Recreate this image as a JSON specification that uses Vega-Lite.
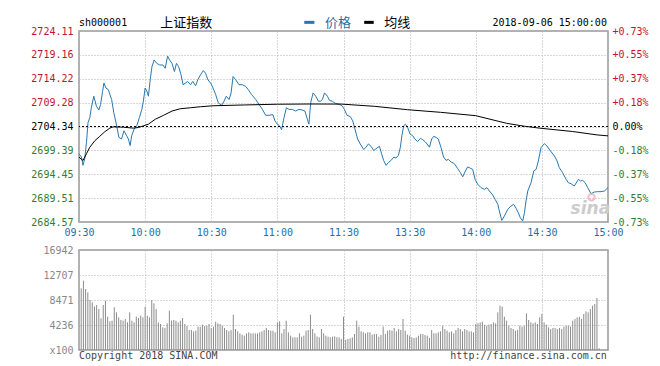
{
"$schema": "https://vega.github.io/schema/vega-lite/v6.json",
"padding": {"left": 30, "top": 16, "right": 5, "bottom": 5},
"background": "white",
"bounds": "flush",
"spacing": 28,
"config": {
  "view": {"stroke": "#999999", "strokeWidth": 1.5},
  "axis": {"labelFont": "DejaVu Sans Mono", "labelFontSize": 10, "ticks": false, "domain": false, "gridColor": "#b0b0b0", "gridDash": [1, 2], "gridWidth": 1, "labelOverlap": false, "labelFlush": false, "labelBound": false}
},
"datasets": {
  "price": [
{"m":0,"p":2698.69},{"m":1.1,"p":2698.01},{"m":1.8,"p":2696.30},{"m":2.6,"p":2697.67},{"m":3.4,"p":2701.07},{"m":4.1,"p":2705.16},{"m":4.9,"p":2706.18},{"m":5.6,"p":2708.22},{"m":6.7,"p":2710.61},{"m":7.9,"p":2708.56},{"m":9.0,"p":2707.75},{"m":9.8,"p":2708.90},{"m":10.7,"p":2711.63},{"m":11.3,"p":2713.33},{"m":12.2,"p":2712.31},{"m":13.3,"p":2711.97},{"m":14.8,"p":2709.92},{"m":15.8,"p":2707.20},{"m":17.1,"p":2704.48},{"m":18.1,"p":2702.09},{"m":19.3,"p":2701.75},{"m":20.4,"p":2703.45},{"m":21.6,"p":2702.43},{"m":22.4,"p":2701.75},{"m":23.2,"p":2700.39},{"m":23.9,"p":2702.43},{"m":25.0,"p":2703.80},{"m":26.2,"p":2704.48},{"m":27.4,"p":2706.18},{"m":28.5,"p":2707.88},{"m":29.2,"p":2709.58},{"m":30.0,"p":2712.31},{"m":30.8,"p":2711.63},{"m":31.5,"p":2710.61},{"m":32.3,"p":2714.01},{"m":33.1,"p":2716.73},{"m":34.1,"p":2718.10},{"m":35.3,"p":2717.41},{"m":36.6,"p":2717.07},{"m":38.1,"p":2717.07},{"m":39.1,"p":2716.39},{"m":40.2,"p":2718.91},{"m":41.1,"p":2718.10},{"m":42.2,"p":2717.41},{"m":43.3,"p":2715.71},{"m":44.2,"p":2717.41},{"m":45.2,"p":2716.73},{"m":46.3,"p":2715.03},{"m":47.2,"p":2712.99},{"m":48.3,"p":2713.33},{"m":49.3,"p":2713.67},{"m":50.6,"p":2712.99},{"m":51.6,"p":2713.67},{"m":52.9,"p":2712.78},{"m":53.9,"p":2714.01},{"m":55.1,"p":2715.03},{"m":56.4,"p":2715.92},{"m":57.4,"p":2715.37},{"m":58.5,"p":2714.01},{"m":59.7,"p":2713.33},{"m":60.5,"p":2712.65},{"m":62.0,"p":2710.95},{"m":63.2,"p":2709.24},{"m":64.7,"p":2708.70},{"m":65.8,"p":2709.58},{"m":66.8,"p":2710.61},{"m":68.1,"p":2709.92},{"m":69.0,"p":2711.29},{"m":69.9,"p":2714.69},{"m":71.1,"p":2714.01},{"m":72.6,"p":2712.99},{"m":74.1,"p":2712.99},{"m":75.6,"p":2712.65},{"m":76.8,"p":2711.97},{"m":78.3,"p":2710.95},{"m":80.2,"p":2709.92},{"m":81.7,"p":2708.90},{"m":83.2,"p":2707.88},{"m":84.7,"p":2706.66},{"m":86.2,"p":2706.66},{"m":88.0,"p":2706.79},{"m":88.9,"p":2705.50},{"m":90.0,"p":2704.82},{"m":91.0,"p":2704.48},{"m":91.9,"p":2703.66},{"m":93.0,"p":2706.18},{"m":94.1,"p":2708.22},{"m":95.3,"p":2707.88},{"m":96.8,"p":2707.88},{"m":98.3,"p":2707.54},{"m":99.8,"p":2707.88},{"m":101.3,"p":2707.75},{"m":102.5,"p":2707.54},{"m":103.6,"p":2705.84},{"m":104.3,"p":2704.82},{"m":105.1,"p":2709.24},{"m":106.2,"p":2711.29},{"m":107.4,"p":2710.61},{"m":108.6,"p":2709.58},{"m":109.6,"p":2709.58},{"m":110.4,"p":2709.92},{"m":111.4,"p":2711.29},{"m":112.7,"p":2710.61},{"m":113.7,"p":2709.72},{"m":114.9,"p":2709.58},{"m":116.4,"p":2709.11},{"m":118.3,"p":2708.90},{"m":119.5,"p":2708.56},{"m":120.4,"p":2707.88},{"m":121.6,"p":2706.66},{"m":123.1,"p":2706.38},{"m":124.2,"p":2705.50},{"m":125.2,"p":2703.80},{"m":126.4,"p":2701.75},{"m":127.6,"p":2700.73},{"m":129.2,"p":2699.57},{"m":130.2,"p":2700.05},{"m":131.3,"p":2700.73},{"m":132.5,"p":2700.25},{"m":133.7,"p":2699.37},{"m":134.7,"p":2699.71},{"m":136.3,"p":2700.25},{"m":137.3,"p":2698.69},{"m":138.2,"p":2697.33},{"m":139.3,"p":2696.30},{"m":140.3,"p":2696.85},{"m":141.6,"p":2697.33},{"m":142.8,"p":2698.01},{"m":143.8,"p":2697.80},{"m":144.9,"p":2698.35},{"m":145.8,"p":2700.05},{"m":146.5,"p":2702.43},{"m":147.3,"p":2704.48},{"m":148.1,"p":2704.82},{"m":149.1,"p":2704.14},{"m":150.2,"p":2702.77},{"m":151.4,"p":2702.43},{"m":152.4,"p":2701.75},{"m":153.6,"p":2701.21},{"m":154.9,"p":2701.89},{"m":155.9,"p":2701.62},{"m":157.0,"p":2701.21},{"m":157.9,"p":2700.73},{"m":159.0,"p":2700.05},{"m":160.0,"p":2701.75},{"m":160.9,"p":2702.30},{"m":162.0,"p":2702.09},{"m":163.0,"p":2701.75},{"m":164.2,"p":2700.05},{"m":165.4,"p":2698.01},{"m":166.5,"p":2697.33},{"m":167.6,"p":2697.53},{"m":168.8,"p":2696.99},{"m":170.3,"p":2696.65},{"m":171.8,"p":2695.62},{"m":173.0,"p":2694.81},{"m":174.1,"p":2693.92},{"m":175.1,"p":2694.94},{"m":176.3,"p":2695.96},{"m":177.1,"p":2695.82},{"m":178.6,"p":2695.47},{"m":179.7,"p":2693.40},{"m":180.9,"p":2692.37},{"m":182.4,"p":2691.68},{"m":183.9,"p":2691.33},{"m":185.1,"p":2691.68},{"m":186.2,"p":2690.99},{"m":187.7,"p":2690.16},{"m":188.8,"p":2689.26},{"m":190.0,"p":2688.23},{"m":190.7,"p":2686.85},{"m":191.8,"p":2684.91},{"m":193.0,"p":2685.81},{"m":194.5,"p":2687.19},{"m":196.0,"p":2687.88},{"m":197.2,"p":2688.23},{"m":198.3,"p":2687.40},{"m":199.3,"p":2686.50},{"m":200.2,"p":2685.47},{"m":201.3,"p":2684.78},{"m":202.1,"p":2686.50},{"m":202.8,"p":2688.92},{"m":203.6,"p":2690.99},{"m":205.1,"p":2692.71},{"m":206.3,"p":2695.13},{"m":207.4,"p":2695.47},{"m":208.4,"p":2697.20},{"m":209.6,"p":2699.96},{"m":211.1,"p":2700.79},{"m":212.3,"p":2700.30},{"m":213.9,"p":2699.27},{"m":215.7,"p":2698.23},{"m":216.9,"p":2697.20},{"m":217.9,"p":2695.82},{"m":219.4,"p":2694.78},{"m":221.0,"p":2693.40},{"m":222.0,"p":2692.71},{"m":223.2,"p":2692.50},{"m":224.7,"p":2692.02},{"m":226.6,"p":2693.40},{"m":227.5,"p":2693.06},{"m":228.5,"p":2693.19},{"m":229.6,"p":2692.71},{"m":230.8,"p":2691.68},{"m":232.3,"p":2690.44},{"m":233.8,"p":2690.78},{"m":235.3,"p":2690.85},{"m":236.8,"p":2690.85},{"m":238.4,"p":2690.99},{"m":240,"p":2691.68}
  ],
  "avg": [
{"m":0,"a":2698.0},{"m":1.8,"a":2697.3},{"m":3.4,"a":2698.7},{"m":4.9,"a":2700.05},{"m":7.2,"a":2701.4},{"m":9.4,"a":2702.3},{"m":11.7,"a":2703.25},{"m":14,"a":2704.0},{"m":15.5,"a":2704.27},{"m":20.1,"a":2704.2},{"m":24.7,"a":2704.0},{"m":27,"a":2704.14},{"m":29.2,"a":2704.48},{"m":31.5,"a":2704.82},{"m":34.6,"a":2705.84},{"m":38.4,"a":2706.66},{"m":42.2,"a":2707.54},{"m":46,"a":2708.02},{"m":50.6,"a":2708.22},{"m":55.1,"a":2708.43},{"m":60.8,"a":2708.63},{"m":75,"a":2708.8},{"m":90,"a":2708.95},{"m":105,"a":2709.0},{"m":119,"a":2708.98},{"m":134,"a":2708.52},{"m":149,"a":2707.82},{"m":164,"a":2707.28},{"m":180,"a":2706.58},{"m":194,"a":2705.0},{"m":202,"a":2704.4},{"m":209,"a":2704.0},{"m":224,"a":2703.3},{"m":235,"a":2702.6},{"m":240,"a":2702.4}
  ],
  "vol": [
{"m":1,"v":10447},{"m":2,"v":11746},{"m":3,"v":10334},{"m":4,"v":9769},{"m":5,"v":8470},{"m":6,"v":8075},{"m":7,"v":7397},{"m":8,"v":7623},{"m":9,"v":6946},{"m":10,"v":5365},{"m":11,"v":7620},{"m":12,"v":8357},{"m":13,"v":5647},{"m":14,"v":4856},{"m":15,"v":4970},{"m":16,"v":7228},{"m":17,"v":6381},{"m":18,"v":5534},{"m":19,"v":5083},{"m":20,"v":4970},{"m":21,"v":5252},{"m":22,"v":4687},{"m":23,"v":6381},{"m":24,"v":4970},{"m":25,"v":4687},{"m":26,"v":5647},{"m":27,"v":5421},{"m":28,"v":5817},{"m":29,"v":5534},{"m":30,"v":7340},{"m":31,"v":5817},{"m":32,"v":5534},{"m":33,"v":8470},{"m":34,"v":7906},{"m":35,"v":6946},{"m":36,"v":4687},{"m":37,"v":4405},{"m":38,"v":3840},{"m":39,"v":3727},{"m":40,"v":4518},{"m":41,"v":6664},{"m":42,"v":5000},{"m":43,"v":5083},{"m":44,"v":4970},{"m":45,"v":4687},{"m":46,"v":4970},{"m":47,"v":5421},{"m":48,"v":4405},{"m":49,"v":4066},{"m":50,"v":3388},{"m":51,"v":3388},{"m":52,"v":3162},{"m":53,"v":3275},{"m":54,"v":3953},{"m":55,"v":3953},{"m":56,"v":4300},{"m":57,"v":4066},{"m":58,"v":4123},{"m":59,"v":4405},{"m":60,"v":3727},{"m":61,"v":3953},{"m":62,"v":4800},{"m":63,"v":4518},{"m":64,"v":4405},{"m":65,"v":4123},{"m":66,"v":3727},{"m":67,"v":3388},{"m":68,"v":3162},{"m":69,"v":3388},{"m":70,"v":5985},{"m":71,"v":3558},{"m":72,"v":3162},{"m":73,"v":2824},{"m":74,"v":2598},{"m":75,"v":2428},{"m":76,"v":2824},{"m":77,"v":2993},{"m":78,"v":2824},{"m":79,"v":2824},{"m":80,"v":2824},{"m":81,"v":2824},{"m":82,"v":2993},{"m":83,"v":3162},{"m":84,"v":3388},{"m":85,"v":3727},{"m":86,"v":3388},{"m":87,"v":3275},{"m":88,"v":3275},{"m":89,"v":2993},{"m":90,"v":4687},{"m":91,"v":4856},{"m":92,"v":2824},{"m":93,"v":3558},{"m":94,"v":4970},{"m":95,"v":2993},{"m":96,"v":2428},{"m":97,"v":2146},{"m":98,"v":2146},{"m":99,"v":2146},{"m":100,"v":2824},{"m":101,"v":2259},{"m":102,"v":2428},{"m":103,"v":3275},{"m":104,"v":3388},{"m":105,"v":5985},{"m":106,"v":3558},{"m":107,"v":2824},{"m":108,"v":2300},{"m":109,"v":2146},{"m":110,"v":3558},{"m":111,"v":2824},{"m":112,"v":2428},{"m":113,"v":2259},{"m":114,"v":2146},
{"m":115,"v":2259},{"m":116,"v":2315},{"m":117,"v":2146},{"m":118,"v":2146},{"m":119,"v":1864},{"m":120,"v":5647},{"m":121,"v":1751},{"m":122,"v":1864},{"m":123,"v":1976},{"m":124,"v":2146},{"m":125,"v":2711},{"m":126,"v":4970},{"m":127,"v":3953},{"m":128,"v":3162},{"m":129,"v":2993},{"m":130,"v":2824},{"m":131,"v":2993},{"m":132,"v":2993},{"m":133,"v":2598},{"m":134,"v":2711},{"m":135,"v":2711},{"m":136,"v":2259},{"m":137,"v":2541},{"m":138,"v":3953},{"m":139,"v":2711},{"m":140,"v":3275},{"m":141,"v":3388},{"m":142,"v":3275},{"m":143,"v":3727},{"m":144,"v":3162},{"m":145,"v":3558},{"m":146,"v":3388},{"m":147,"v":5252},{"m":148,"v":3275},{"m":149,"v":2598},{"m":150,"v":2428},{"m":151,"v":2146},{"m":152,"v":2033},{"m":153,"v":2146},{"m":154,"v":2428},{"m":155,"v":2711},{"m":156,"v":2711},{"m":157,"v":2541},{"m":158,"v":2428},{"m":159,"v":2033},{"m":160,"v":3388},{"m":161,"v":2824},{"m":162,"v":2824},{"m":163,"v":2993},{"m":164,"v":3162},{"m":165,"v":4122},{"m":166,"v":3558},{"m":167,"v":3275},{"m":168,"v":2993},{"m":169,"v":3162},{"m":170,"v":2824},{"m":171,"v":3388},{"m":172,"v":3727},{"m":173,"v":3558},{"m":174,"v":3162},{"m":175,"v":3558},{"m":176,"v":3388},{"m":177,"v":3162},{"m":178,"v":3162},{"m":179,"v":2993},{"m":180,"v":4405},{"m":181,"v":4518},{"m":182,"v":4687},{"m":183,"v":4800},{"m":184,"v":4292},{"m":185,"v":4122},{"m":186,"v":4292},{"m":187,"v":4405},{"m":188,"v":4687},{"m":189,"v":4518},{"m":190,"v":6381},{"m":191,"v":7510},{"m":192,"v":7341},{"m":193,"v":5647},{"m":194,"v":4970},{"m":195,"v":4122},{"m":196,"v":3727},{"m":197,"v":3558},{"m":198,"v":3275},{"m":199,"v":3388},{"m":200,"v":4122},{"m":201,"v":3953},{"m":202,"v":4122},{"m":203,"v":6212},{"m":204,"v":5082},{"m":205,"v":4687},{"m":206,"v":4518},{"m":207,"v":4687},{"m":208,"v":4405},{"m":209,"v":5534},{"m":210,"v":6099},{"m":211,"v":4687},{"m":212,"v":4292},{"m":213,"v":3840},{"m":214,"v":3558},{"m":215,"v":3727},{"m":216,"v":3727},{"m":217,"v":3558},{"m":218,"v":3727},{"m":219,"v":3558},{"m":220,"v":3953},{"m":221,"v":4122},{"m":222,"v":4122},{"m":223,"v":3953},{"m":224,"v":4970},{"m":225,"v":5252},{"m":226,"v":5534},{"m":227,"v":5647},{"m":228,"v":5252},{"m":229,"v":6099},{"m":230,"v":6551},{"m":231,"v":6381},{"m":232,"v":6946},{"m":233,"v":7510},{"m":234,"v":7793},{"m":235,"v":8810},{"m":236,"v":300}
  ],
  "pct": [{"q": 0}]
},
"vconcat": [
  {
    "width": 529, "height": 191,
    "layer": [
      {"layer": [
        {"data": {"name": "price"}, "mark": {"type": "line", "color": "#2878b0", "strokeWidth": 1},
         "encoding": {
           "x": {"field": "m", "type": "quantitative", "scale": {"domain": [0, 240], "nice": false, "zero": false},
                 "axis": {"values": [0, 30, 60, 90, 120, 150, 180, 210, 240], "labelExpr": "['09:30','10:00','10:30','11:00','11:30','13:30','14:00','14:30','15:00'][round(datum.value/30)]", "labelColor": "#1f6fa8", "labelPadding": 5, "grid": true, "title": null, "labelOverlap": false}},
           "y": {"field": "p", "type": "quantitative", "scale": {"domain": [2684.57, 2724.11], "nice": false, "zero": false}, "axis": null}
         }},
        {"data": {"values": [{}]}, "mark": {"type": "rule", "color": "#000000", "strokeWidth": 1, "strokeDash": [2, 2]},
         "encoding": {"y": {"datum": 2704.34, "axis": null}}},
        {"data": {"name": "avg"}, "mark": {"type": "line", "color": "#000000", "strokeWidth": 1},
         "encoding": {"x": {"field": "m", "type": "quantitative"}, "y": {"field": "a", "type": "quantitative", "axis": null}}},
        {"data": {"values": [{}]}, "mark": {"type": "text", "align": "left", "baseline": "middle", "font": "DejaVu Sans Mono", "fontSize": 10, "color": "#000000"},
         "encoding": {"x": {"datum": 0}, "y": {"datum": 2725.7, "axis": null}, "text": {"value": "sh000001"}}},
        {"data": {"values": [{}]}, "mark": {"type": "text", "align": "left", "baseline": "middle", "font": "Noto Sans CJK SC", "fontSize": 13, "color": "#000000"},
         "encoding": {"x": {"datum": 36.9}, "y": {"datum": 2725.8, "axis": null}, "text": {"value": "上证指数"}}},
        {"data": {"values": [{}]}, "mark": {"type": "rule", "strokeWidth": 3, "color": "#2878b0"},
         "encoding": {"x": {"datum": 102.2}, "x2": {"datum": 106.8}, "y": {"datum": 2725.9, "axis": null}}},
        {"data": {"values": [{}]}, "mark": {"type": "text", "align": "left", "baseline": "middle", "font": "Noto Sans CJK SC", "fontSize": 13, "color": "#1f6fa8"},
         "encoding": {"x": {"datum": 111.6}, "y": {"datum": 2725.8, "axis": null}, "text": {"value": "价格"}}},
        {"data": {"values": [{}]}, "mark": {"type": "rule", "strokeWidth": 3, "color": "#000000"},
         "encoding": {"x": {"datum": 129.4}, "x2": {"datum": 133.7}, "y": {"datum": 2725.9, "axis": null}}},
        {"data": {"values": [{}]}, "mark": {"type": "text", "align": "left", "baseline": "middle", "font": "Noto Sans CJK SC", "fontSize": 13, "color": "#000000"},
         "encoding": {"x": {"datum": 138.5}, "y": {"datum": 2725.8, "axis": null}, "text": {"value": "均线"}}},
        {"data": {"values": [{}]}, "mark": {"type": "text", "align": "right", "baseline": "middle", "font": "DejaVu Sans Mono", "fontSize": 10, "color": "#000000"},
         "encoding": {"x": {"datum": 239.5}, "y": {"datum": 2725.7, "axis": null}, "text": {"value": "2018-09-06 15:00:00"}}},
        {"data": {"values": [{}]}, "mark": {"type": "point", "shape": "circle", "filled": false, "size": 40, "strokeWidth": 2, "color": "#f2a5b0"},
         "encoding": {"x": {"datum": 232.5}, "y": {"datum": 2689.7, "axis": null}}},
        {"data": {"values": [{}]}, "mark": {"type": "text", "align": "center", "baseline": "middle", "font": "DejaVu Sans", "fontSize": 17, "fontStyle": "italic", "fontWeight": "bold", "color": "#cccccc"},
         "encoding": {"x": {"datum": 232}, "y": {"datum": 2687.2, "axis": null}, "text": {"value": "sina"}}}
      ]},
      {"data": {"name": "pct"}, "mark": {"type": "point", "opacity": 0},
       "encoding": {"y": {"field": "q", "type": "quantitative", "scale": {"domain": [-0.7308, 0.7308], "nice": false, "zero": false},
         "axis": {"orient": "right", "values": [-0.7308, -0.5481, -0.3654, -0.1827, 0, 0.1827, 0.3654, 0.5481, 0.7308],
                  "labelExpr": "datum.value > 0.001 ? '+' + format(datum.value, '.2f') + '%' : (datum.value < -0.001 ? '-' + format(-datum.value, '.2f') + '%' : '0.00%')",
                  "labelPadding": 4, "grid": false, "title": null, "labelOverlap": false,
                  "labelColor": {"condition": [{"test": "datum.value > 0.001", "value": "#c41230"}, {"test": "datum.value < -0.001", "value": "#2e7d32"}], "value": "#000000"}}}}},
      {"data": {"name": "price"}, "mark": {"type": "point", "opacity": 0},
       "encoding": {"y": {"field": "p", "type": "quantitative", "scale": {"domain": [2684.57, 2724.11], "nice": false, "zero": false},
         "axis": {"orient": "left", "values": [2684.57, 2689.51, 2694.45, 2699.39, 2704.34, 2709.28, 2714.22, 2719.16, 2724.11], "format": ".2f", "labelPadding": 6, "grid": true, "title": null, "labelOverlap": false,
                  "labelColor": {"condition": [{"test": "datum.value > 2704.4", "value": "#c41230"}, {"test": "datum.value < 2704.3", "value": "#2e7d32"}], "value": "#000000"}}}}}
    ],
    "resolve": {"scale": {"y": "independent"}}
  },
  {
    "width": 529, "height": 100,
    "layer": [
      {"layer": [
        {"data": {"name": "vol"}, "mark": {"type": "rule", "color": "#8c8c8c", "strokeWidth": 1},
         "encoding": {
           "x": {"field": "m", "type": "quantitative", "scale": {"domain": [0, 240], "nice": false, "zero": false},
                 "axis": {"values": [30, 60, 90, 120, 150, 180, 210], "labels": false, "grid": true, "title": null}},
           "y": {"field": "v", "type": "quantitative", "scale": {"domain": [0, 16942], "nice": false, "zero": false}, "axis": null},
           "y2": {"datum": 0}
         }},
        {"data": {"values": [{}]}, "mark": {"type": "text", "align": "left", "baseline": "middle", "font": "DejaVu Sans Mono", "fontSize": 10, "color": "#444444"},
         "encoding": {"x": {"datum": 0}, "y": {"datum": -980, "axis": null}, "text": {"value": "Copyright 2018 SINA.COM"}}},
        {"data": {"values": [{}]}, "mark": {"type": "text", "align": "right", "baseline": "middle", "font": "DejaVu Sans Mono", "fontSize": 10, "color": "#444444"},
         "encoding": {"x": {"datum": 239.5}, "y": {"datum": -1000, "axis": null}, "text": {"value": "http://finance.sina.com.cn"}}}
      ]},
      {"data": {"name": "vol"}, "mark": {"type": "point", "opacity": 0},
       "encoding": {"y": {"field": "v", "type": "quantitative", "scale": {"domain": [0, 16942], "nice": false, "zero": false},
         "axis": {"orient": "left", "values": [0, 4235.5, 8471, 12706.5, 16942], "labelExpr": "datum.value == 0 ? 'x100' : format(datum.value, 'd')", "labelColor": "#888888", "labelPadding": 6, "grid": true, "title": null, "labelOverlap": false}}}}
    ],
    "resolve": {"scale": {"y": "independent"}}
  }
]
}
